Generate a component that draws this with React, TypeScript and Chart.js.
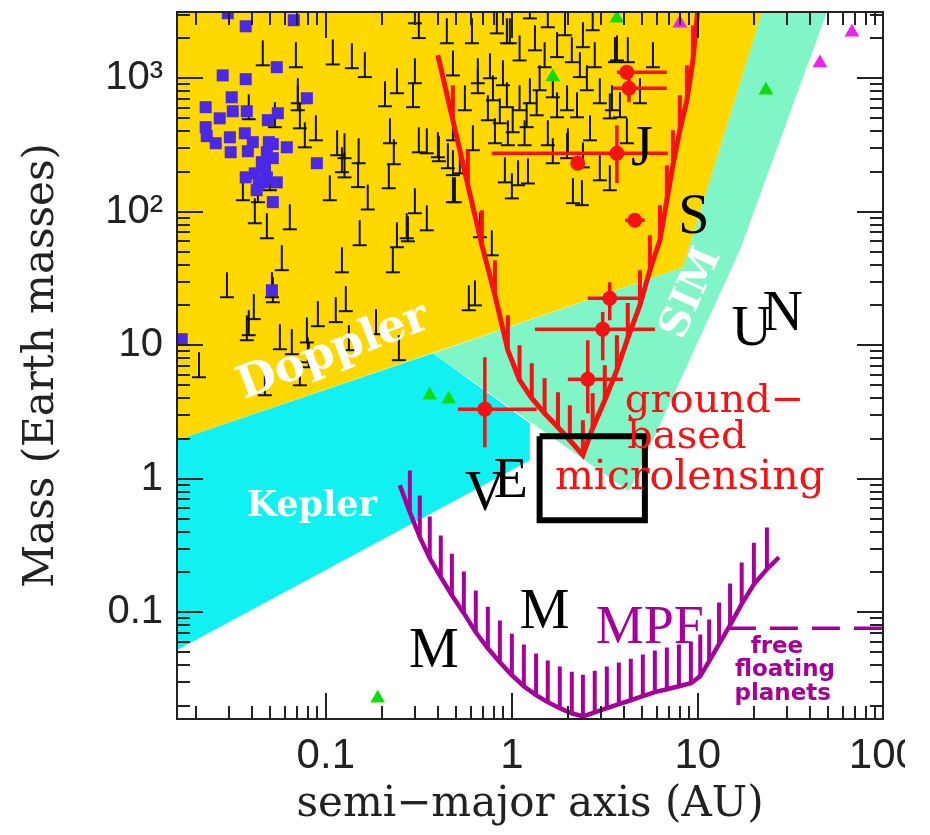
import React, { useEffect, useRef } from "react";
import { Chart, registerables } from "chart.js";

Chart.register(...registerables);

type Pt = [number, number];

// Axis limits: semi-major axis (AU) and mass (Earth masses), both logarithmic
const A_MIN = 0.01585;
const A_MAX = 98.9;
const M_MIN = 0.01585;
const M_MAX = 3135;

const aTicks = [0.1, 1, 10, 100];
const aTickLabels = ["0.1", "1", "10", "100"];
const mTicks = [0.1, 1, 10, 100, 1000];
const mTickLabels = ["0.1", "1", "10", "10²", "10³"];

// Sensitivity zones (polygon vertices, AU / Earth masses)
const dopplerZone: Pt[] = [[0.0158, 3135], [22.1, 3135], [8.3, 38.4], [0.0158, 1.94]];
const keplerZone: Pt[] = [[0.0158, 1.94], [0.376, 8.71], [1.25, 2.6], [1.25, 1.376], [0.0158, 0.0519]];
const simZone: Pt[] = [[0.376, 8.71], [4.26, 0.806], [5.73, 1.94], [16.8, 51.5], [49.4, 3135], [22.1, 3135], [8.3, 38.4]];

// Ground-based microlensing detection limit
const groundLimit: Pt[] = [
  [0.4, 1490], [0.482, 485], [0.58, 158], [0.69, 56.1], [0.811, 23.7], [0.952, 9.18], [1.1, 5.47],
  [1.28, 4.01], [1.5, 3.09], [1.77, 2.43], [2.05, 1.94], [2.41, 1.5], [2.72, 2.39], [3.16, 3.87],
  [3.67, 6.5], [4.2, 11.3], [4.88, 19.9], [5.52, 36.5], [6.25, 61.2], [6.81, 122], [7.34, 223],
  [8.0, 408], [8.73, 684], [9.4, 1360], [10.1, 3800],
];

// MPF space microlensing detection limit
const mpfLimit: Pt[] = [
  [0.25, 0.894], [0.283, 0.561], [0.32, 0.365], [0.362, 0.254], [0.415, 0.183], [0.476, 0.134],
  [0.552, 0.0984], [0.64, 0.0708], [0.743, 0.0537], [0.862, 0.0422], [1.0, 0.0337], [1.16, 0.0279],
  [1.35, 0.0239], [1.56, 0.0212], [1.81, 0.0191], [2.1, 0.0175], [2.41, 0.0166], [2.79, 0.0178],
  [3.24, 0.0191], [3.76, 0.0205], [4.36, 0.0219], [5.06, 0.0235], [5.87, 0.0252], [6.81, 0.0265],
  [7.91, 0.0279], [9.17, 0.0294], [10.3, 0.0332], [11.5, 0.043], [13.0, 0.0576], [14.9, 0.08],
  [17.2, 0.115], [20.0, 0.162], [23.5, 0.21], [27.3, 0.258],
];

// Free-floating planet limit
const freeFloatingLimit: Pt[] = [[14.5, 0.0759], [120, 0.0759]];

// Earth-mass habitable window box
const earthBox: Pt[] = [[1.41, 2.08], [5.19, 2.08], [5.19, 0.489], [1.41, 0.489], [1.41, 2.08]];

// Microlensing planets with error ranges
const mlA = [4.15, 4.26, 3.67, 2.26, 4.58, 3.36, 3.08, 2.56, 0.716];
const mlM = [1110, 841, 274, 231, 86.4, 22.5, 13.2, 5.56, 3.32];
const mlAlo = [3.67, 3.49, 0.78, null, 4.06, 2.56, 1.33, 2.0, 0.513];
const mlAhi = [6.81, 6.81, 6.9, null, 5.18, 4.76, 5.87, 3.95, 1.36];
const mlMlo = [null, 661, 164, null, null, 15.4, 7.73, 3.09, 1.72];
const mlMhi = [null, 1020, 445, null, null, 29.6, 17.7, 10.9, 8.13];

// Radial-velocity planets (minimum masses)
const rvPlanets: Pt[] = [
  [0.0458, 1250], [0.069, 1210], [0.109, 1270], [0.138, 1190], [0.162, 1020], [0.301, 918], [0.241, 772],
  [0.208, 617], [0.294, 607], [0.482, 1050], [0.0707, 650], [0.0707, 576], [0.0385, 493], [0.0532, 430],
  [0.0725, 422], [0.0771, 304], [0.0884, 343], [0.115, 265], [0.126, 252], [0.126, 181], [0.15, 231],
  [0.149, 153], [0.122, 198], [0.221, 326], [0.232, 227], [0.316, 279], [0.405, 239], [0.453, 212],
  [0.482, 118], [0.525, 194], [0.105, 122], [0.168, 104], [0.218, 150], [0.301, 97.5], [0.349, 72.6],
  [0.272, 63.3], [0.241, 54.2], [0.152, 56.1], [0.0482, 63.3], [0.064, 73.9], [0.0415, 82.0], [0.0358, 122],
  [0.0431, 118], [0.05, 145], [0.301, 2580], [0.316, 2000], [0.447, 1830],
  [0.0294, 22.9], [0.0513, 22.9], [0.0519, 21.0], [0.058, 36.5], [0.122, 35.2], [0.229, 35.2], [0.276, 60.1],
  [0.041, 15.7], [0.0385, 11.9], [0.0376, 10.9], [0.0566, 9.33], [0.0656, 8.57], [0.0791, 10.5], [0.08, 7.46],
  [0.081, 6.84], [0.0906, 13.9], [0.113, 14.9], [0.128, 18.0], [0.133, 9.18], [0.186, 12.1], [0.247, 7.73],
  [0.0725, 5.01], [0.047, 4.22], [0.0208, 5.76], [0.587, 18.3],
  [0.61, 1830], [0.83, 2170], [0.94, 1830], [1.25, 2810], [1.56, 2410], [1.93, 2100], [2.41, 1710],
  [2.72, 2290], [3.58, 1320], [5.73, 1210], [0.656, 918], [0.762, 1000], [0.895, 887], [0.975, 1830],
  [1.1, 1360], [1.33, 1620], [1.5, 1210], [1.75, 1440], [2.1, 1320], [2.32, 1020], [2.79, 1210],
  [2.53, 813], [2.97, 650], [3.45, 576], [3.81, 510], [4.88, 650], [4.15, 326], [2.63, 343], [3.36, 501],
  [0.791, 684], [0.94, 607], [1.1, 576], [1.25, 650], [1.36, 528], [1.2, 430], [1.01, 394], [0.811, 326],
  [0.952, 315], [1.17, 315], [1.56, 315], [1.75, 510], [1.98, 576], [2.24, 510], [1.66, 720], [1.41, 813],
  [0.861, 460], [0.743, 485], [0.656, 772], [0.559, 576], [0.482, 343], [0.4, 256], [0.349, 274],
  [0.617, 289], [2.0, 274], [2.41, 215], [1.66, 231], [2.97, 172], [3.36, 145], [0.917, 166], [1.08, 158],
  [1.22, 163], [1.0, 126], [0.482, 188], [0.494, 118], [2.13, 116], [2.38, 112], [0.673, 64.4],
  [1.98, 252], [4.2, 1320], [3.67, 1360], [0.78, 47.2], [0.633, 19.9],
];

// Transiting planets
const transitPlanets: Pt[] = [
  [0.0297, 3070], [0.0371, 2450], [0.0673, 2720], [0.0545, 1210], [0.0279, 1050], [0.0371, 984],
  [0.0312, 720], [0.0791, 708], [0.0226, 607], [0.0316, 566], [0.0376, 566], [0.0269, 501], [0.0552, 547],
  [0.0488, 485], [0.0226, 430], [0.0229, 368], [0.0305, 361], [0.0367, 387], [0.0256, 326], [0.0405, 332],
  [0.0494, 332], [0.0519, 321], [0.0617, 304], [0.0308, 279], [0.0381, 284], [0.0482, 279], [0.0519, 252],
  [0.0895, 231], [0.0453, 235], [0.047, 215], [0.0415, 194], [0.0371, 181], [0.0482, 181], [0.0436, 163],
  [0.0545, 166], [0.0425, 145], [0.0464, 166], [0.0519, 118], [0.0513, 25.8], [0.0168, 11.1],
];

// Timing / imaging detections
const greenA = [0.19, 0.362, 0.458, 1.66, 3.67, 23.2];
const greenM = [0.0227, 4.22, 3.94, 1020, 2810, 813];
const magentaA = [8.0, 45.3, 67.3];
const magentaM = [2580, 1300, 2210];

const YELLOW = "#ffd800";
const CYAN = "#12f1f1";
const AQUA = "#80f5c6";
const RED = "#f41212";
const PURPLE = "#a6009b";

type Note = { text: string; a: number; m: number; color: string; font: string; angle?: number; baseline?: CanvasTextBaseline };

const notes: Note[] = [
  { text: "Doppler", a: 0.11, m: 8.87, color: "#ffffff", font: 'bold 45px "DejaVu Serif"', angle: -21, baseline: "middle" },
  { text: "Kepler", a: 0.0841, m: 0.524, color: "#ffffff", font: 'bold 35px "DejaVu Serif"' },
  { text: "SIM", a: 9.29, m: 24.5, color: "#ffffff", font: 'bold 41px "DejaVu Serif"', angle: -66, baseline: "middle" },
  { text: "ground−", a: 12.3, m: 3.15, color: RED, font: '40px "DejaVu Serif"' },
  { text: "based", a: 8.73, m: 1.69, color: RED, font: '40px "DejaVu Serif"' },
  { text: "microlensing", a: 9.06, m: 0.834, color: RED, font: '41px "DejaVu Serif"' },
  { text: "V", a: 0.716, m: 0.581, color: "#000", font: '56px "Liberation Serif"' },
  { text: "E", a: 0.988, m: 0.727, color: "#000", font: '56px "Liberation Serif"' },
  { text: "J", a: 5.0, m: 223, color: "#000", font: '56px "Liberation Serif"' },
  { text: "S", a: 9.52, m: 69.0, color: "#000", font: '56px "Liberation Serif"' },
  { text: "U", a: 19.5, m: 10.0, color: "#000", font: '56px "Liberation Serif"' },
  { text: "N", a: 28.6, m: 12.9, color: "#000", font: '56px "Liberation Serif"' },
  { text: "M", a: 0.381, m: 0.0387, color: "#000", font: '56px "Liberation Serif"' },
  { text: "M", a: 1.5, m: 0.0759, color: "#000", font: '56px "Liberation Serif"' },
  { text: "MPF", a: 5.52, m: 0.0586, color: PURPLE, font: '54px "Liberation Serif"' },
  { text: "free", a: 26.6, m: 0.0493, color: PURPLE, font: 'bold 23px "DejaVu Sans"' },
  { text: "floating", a: 29.4, m: 0.0332, color: PURPLE, font: 'bold 23px "DejaVu Sans"' },
  { text: "planets", a: 28.6, m: 0.0219, color: PURPLE, font: 'bold 23px "DejaVu Sans"' },
];

const toXY = (pts: Pt[]) => pts.map(([x, y]) => ({ x, y }));

// vertical hatch strokes rising from each inner vertex of a limit curve
function hatchStrokes(curve: Pt[], factor: number) {
  const out: any[] = [];
  for (let i = 1; i < curve.length - 1; i++) {
    const [a, m] = curve[i];
    out.push({ x: a, y: m }, { x: a, y: m * factor }, { x: null, y: null });
  }
  return out;
}

function errorBarStrokes() {
  const out: any[] = [];
  mlA.forEach((a, i) => {
    const m = mlM[i];
    if (mlAlo[i] != null) out.push({ x: mlAlo[i], y: m }, { x: mlAhi[i], y: m }, { x: null, y: null });
    if (mlMlo[i] != null) out.push({ x: a, y: mlMlo[i] }, { x: a, y: mlMhi[i] }, { x: null, y: null });
  });
  return out;
}

// lower-limit marker: vertical stem standing on a short base bar
function makeLimitGlyph(): HTMLCanvasElement {
  const c = document.createElement("canvas");
  c.width = 16;
  c.height = 54;
  const g = c.getContext("2d")!;
  g.strokeStyle = "#111";
  g.lineWidth = 2;
  g.beginPath();
  g.moveTo(8, 2);
  g.lineTo(8, 27);
  g.moveTo(1, 27);
  g.lineTo(15, 27);
  g.stroke();
  return c;
}

const frameTicks = {
  id: "frameTicks",
  afterDatasetsDraw(chart: any) {
    const { ctx, chartArea: a, scales } = chart;
    const xs = scales.x;
    const ys = scales.y;
    ctx.save();
    ctx.strokeStyle = "#222";
    ctx.lineWidth = 2;
    ctx.beginPath();
    for (let e = -2; e <= 3; e++) {
      for (let k = 1; k <= 9; k++) {
        const v = k * Math.pow(10, e);
        const len = k === 1 ? 26 : 13;
        if (v > xs.min && v < xs.max) {
          const px = Math.round(xs.getPixelForValue(v));
          ctx.moveTo(px, a.bottom);
          ctx.lineTo(px, a.bottom - len);
          ctx.moveTo(px, a.top);
          ctx.lineTo(px, a.top + len);
        }
        if (v > ys.min && v < ys.max) {
          const py = Math.round(ys.getPixelForValue(v));
          ctx.moveTo(a.left, py);
          ctx.lineTo(a.left + len, py);
          ctx.moveTo(a.right, py);
          ctx.lineTo(a.right - len, py);
        }
      }
    }
    ctx.stroke();
    ctx.strokeRect(a.left, a.top, a.right - a.left, a.bottom - a.top);
    ctx.restore();
  },
};

const notesPlugin = {
  id: "notes",
  afterDatasetsDraw(chart: any) {
    const { ctx, scales } = chart;
    for (const n of notes) {
      const px = scales.x.getPixelForValue(n.a);
      const py = scales.y.getPixelForValue(n.m);
      ctx.save();
      ctx.translate(px, py);
      if (n.angle) ctx.rotate((n.angle * Math.PI) / 180);
      ctx.font = n.font;
      ctx.fillStyle = n.color;
      ctx.textAlign = "center";
      ctx.textBaseline = n.baseline || "alphabetic";
      ctx.fillText(n.text, 0, 0);
      ctx.restore();
    }
  },
};

const zone = (label: string, pts: Pt[], color: string, order: number) => ({
  label,
  data: toXY(pts),
  showLine: true,
  fill: "shape",
  backgroundColor: color,
  borderWidth: 0,
  pointRadius: 0,
  order,
});

export default function App() {
  const ref = useRef<HTMLCanvasElement>(null);

  useEffect(() => {
    const glyph = makeLimitGlyph();
    const axisText = "#222";
    const chart = new Chart(ref.current as HTMLCanvasElement, {
      type: "line",
      data: {
        datasets: [
          zone("SIM", simZone, AQUA, 30),
          zone("Doppler", dopplerZone, YELLOW, 29),
          zone("Kepler", keplerZone, CYAN, 28),
          {
            label: "Radial velocity",
            data: toXY(rvPlanets),
            showLine: false,
            pointStyle: glyph as any,
            pointRadius: 3,
            order: 20,
          },
          {
            label: "Transits",
            data: toXY(transitPlanets),
            showLine: false,
            pointStyle: "rect",
            pointRadius: 8.5,
            pointBackgroundColor: "#4a28e6",
            pointBorderWidth: 0,
            order: 19,
          },
          {
            label: "Timing",
            data: greenA.map((a, i) => ({ x: a, y: greenM[i] })),
            showLine: false,
            pointStyle: "triangle",
            pointRadius: 8.5,
            pointBackgroundColor: "#10dd10",
            pointBorderWidth: 0,
            order: 18,
          },
          {
            label: "Imaging",
            data: magentaA.map((a, i) => ({ x: a, y: magentaM[i] })),
            showLine: false,
            pointStyle: "triangle",
            pointRadius: 8.5,
            pointBackgroundColor: "#f020f0",
            pointBorderWidth: 0,
            order: 18,
          },
          {
            label: "Ground limit",
            data: toXY(groundLimit),
            borderColor: RED,
            borderWidth: 5,
            pointRadius: 0,
            fill: false,
            order: 15,
          },
          {
            label: "Ground hatching",
            data: hatchStrokes(groundLimit, 1.83),
            borderColor: RED,
            borderWidth: 4,
            pointRadius: 0,
            fill: false,
            spanGaps: false,
            order: 15,
          },
          {
            label: "Error bars",
            data: errorBarStrokes(),
            borderColor: RED,
            borderWidth: 3.5,
            pointRadius: 0,
            fill: false,
            spanGaps: false,
            order: 12,
          },
          {
            label: "Microlensing planets",
            data: mlA.map((a, i) => ({ x: a, y: mlM[i] })),
            showLine: false,
            pointStyle: "circle",
            pointRadius: 7.5,
            pointBackgroundColor: RED,
            pointBorderWidth: 0,
            order: 11,
          },
          {
            label: "MPF limit",
            data: toXY(mpfLimit),
            borderColor: PURPLE,
            borderWidth: 4.5,
            pointRadius: 0,
            fill: false,
            order: 10,
          },
          {
            label: "MPF hatching",
            data: hatchStrokes(mpfLimit, 2.05),
            borderColor: PURPLE,
            borderWidth: 4,
            pointRadius: 0,
            fill: false,
            spanGaps: false,
            order: 10,
          },
          {
            label: "Free floating",
            data: toXY(freeFloatingLimit),
            borderColor: PURPLE,
            borderWidth: 3.5,
            borderDash: [28, 14],
            pointRadius: 0,
            fill: false,
            order: 10,
          },
          {
            label: "Earth box",
            data: toXY(earthBox),
            borderColor: "#000",
            borderWidth: 6,
            borderJoinStyle: "miter",
            pointRadius: 0,
            fill: false,
            order: 5,
          },
        ] as any,
      },
      options: {
        responsive: false,
        animation: false,
        events: [],
        layout: { padding: { left: 0, top: 12, right: 47, bottom: 0 } },
        plugins: { legend: { display: false }, tooltip: { enabled: false } },
        scales: {
          x: {
            type: "logarithmic",
            min: A_MIN,
            max: A_MAX,
            position: "bottom",
            grid: { display: false, drawTicks: false },
            border: { display: false },
            afterBuildTicks: (s: any) => {
              s.ticks = aTicks.map((v) => ({ value: v }));
            },
            afterFit: (s: any) => {
              s.height = 116;
              s.paddingLeft = 0;
              s.paddingRight = 0;
            },
            ticks: {
              autoSkip: false,
              maxRotation: 0,
              padding: 12,
              color: axisText,
              font: { family: "'Liberation Sans Narrow', 'Liberation Sans', sans-serif", size: 42 },
              callback: (_v: any, i: number) => aTickLabels[i],
            },
            title: {
              display: true,
              text: "semi−major axis (AU)",
              color: axisText,
              font: { family: "'DejaVu Serif', serif", size: 42 },
              padding: { top: 0, bottom: 5 },
            },
          },
          y: {
            type: "logarithmic",
            min: M_MIN,
            max: M_MAX,
            grid: { display: false, drawTicks: false },
            border: { display: false },
            afterBuildTicks: (s: any) => {
              s.ticks = mTicks.map((v) => ({ value: v }));
            },
            afterFit: (s: any) => {
              s.width = 177;
              s.paddingTop = 0;
              s.paddingBottom = 0;
            },
            ticks: {
              autoSkip: false,
              padding: 14,
              color: axisText,
              font: { family: "'Liberation Sans', sans-serif", size: 40 },
              callback: (_v: any, i: number) => mTickLabels[i],
            },
            title: {
              display: true,
              text: "Mass (Earth masses)",
              color: axisText,
              font: { family: "'DejaVu Serif', serif", size: 42 },
              padding: { top: 17, bottom: 0 },
            },
          },
        },
      } as any,
      plugins: [frameTicks, notesPlugin],
    });
    return () => chart.destroy();
  }, []);

  return (
    <div style={{ position: "absolute", left: 0, top: 0, width: 905, height: 835, overflow: "hidden", background: "#fff" }}>
      <canvas ref={ref} width={930} height={835} style={{ display: "block", width: 930, height: 835 }} />
    </div>
  );
}
